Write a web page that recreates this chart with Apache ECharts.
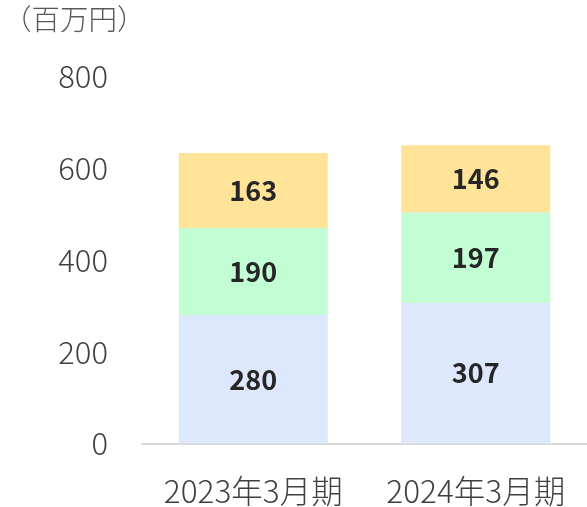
<!DOCTYPE html>
<html><head><meta charset="utf-8">
<script src="https://cdn.jsdelivr.net/npm/echarts@6/dist/echarts.min.js"></script>
<style>html,body{margin:0;padding:0;background:#fff}#c{width:587px;height:507px}</style>
</head><body><div id="c"></div>
<script>
const categories = ['2023年3月期', '2024年3月期'];
const seriesBottom = [280, 307];
const seriesMiddle = [190, 197];
const seriesTop = [163, 146];
const yTicks = [0, 200, 400, 600, 800];
const unitLabel = '（百万円）';

const font = '"Noto Sans CJK JP", "Noto Sans", sans-serif';
const chart = echarts.init(document.getElementById('c'), null, {renderer: 'canvas'});
const lbl = {show: true, position: 'inside', color: '#262626', fontSize: 27, fontWeight: 'bold', fontFamily: font};
chart.setOption({
  animation: false,
  grid: {left: 142, right: 0, top: 76.5, bottom: 63.5},
  graphic: [{type: 'text', left: 3, top: 5, style: {text: unitLabel, fontSize: 28.5, fontFamily: font, fill: '#595959', fontWeight: 300}}],
  xAxis: {
    type: 'category', data: categories,
    axisLine: {lineStyle: {color: '#d9d9d9', width: 2}},
    axisTick: {show: false},
    axisLabel: {interval: 0, hideOverlap: false, fontSize: 31.5, fontFamily: font, color: '#404040', margin: 32, fontWeight: 300}
  },
  yAxis: {
    type: 'value', min: yTicks[0], max: yTicks[yTicks.length - 1], interval: 200,
    splitLine: {show: false}, axisLine: {show: false}, axisTick: {show: false},
    axisLabel: {fontSize: 31, fontFamily: font, color: '#404040', margin: 34, fontWeight: 300}
  },
  series: [
    {type: 'bar', stack: 'a', data: seriesBottom, barWidth: '67%', itemStyle: {color: '#dee8fd'}, label: lbl},
    {type: 'bar', stack: 'a', data: seriesMiddle, itemStyle: {color: '#c3fdd4'}, label: lbl},
    {type: 'bar', stack: 'a', data: seriesTop, itemStyle: {color: '#fee399'}, label: lbl}
  ]
});
</script></body></html>
